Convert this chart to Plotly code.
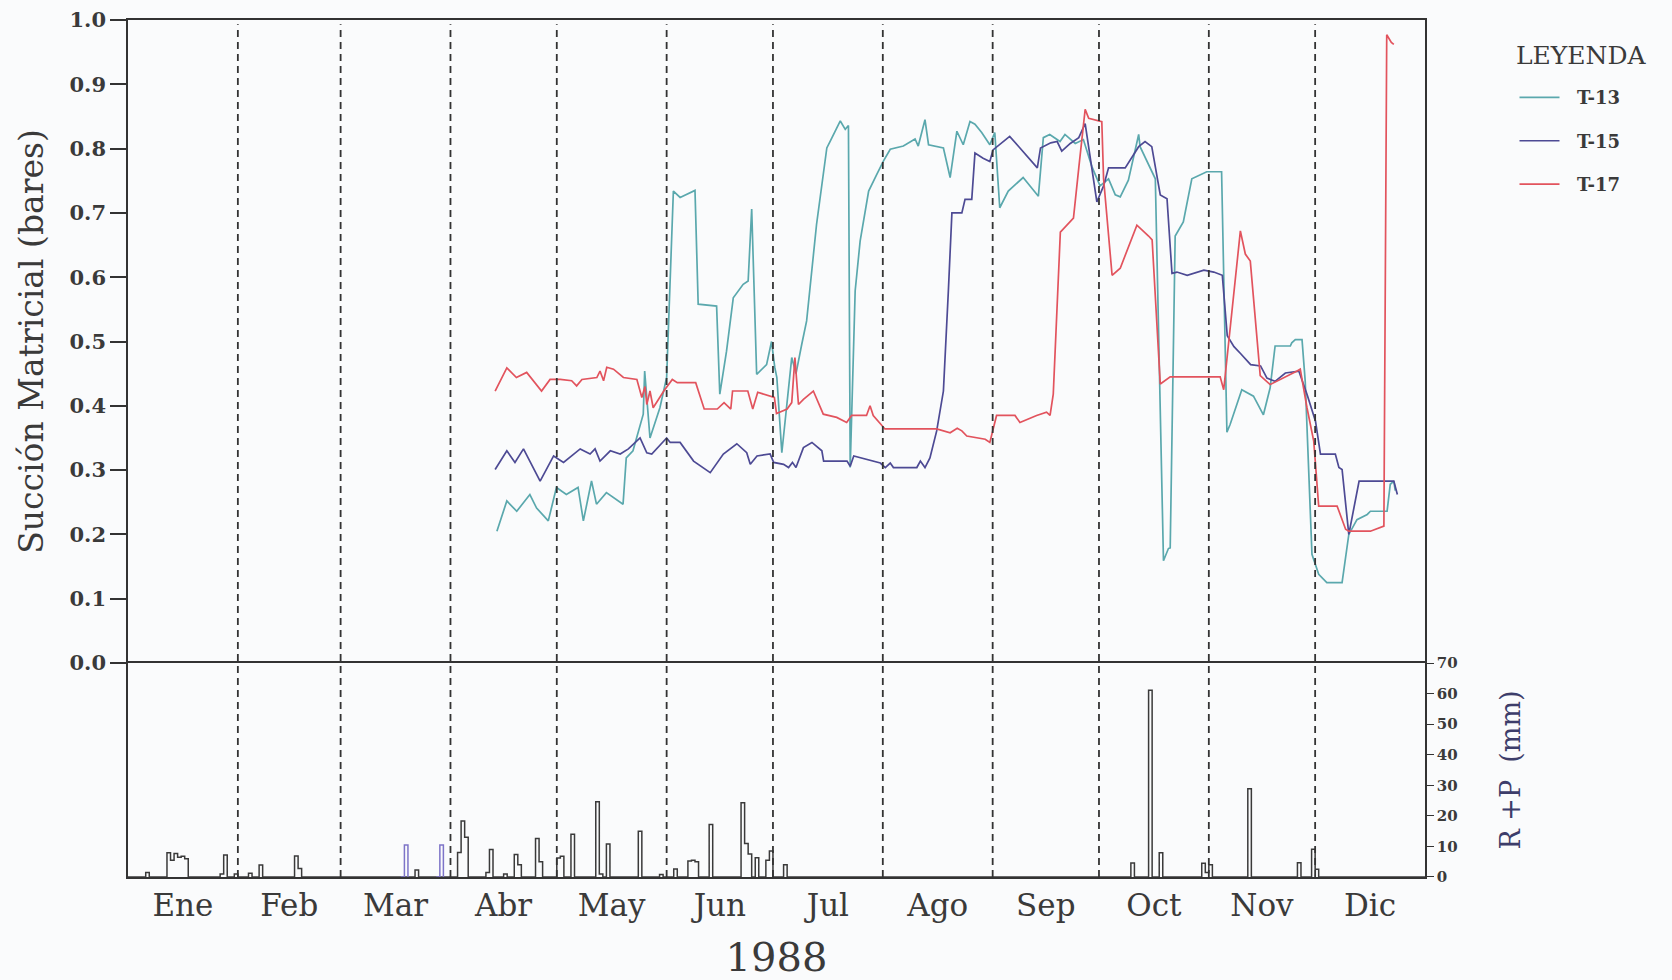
import numpy as np
import plotly.graph_objects as go
from plotly.subplots import make_subplots

# ---- Matric suction (bars) by day of year 1988 (day 0 = 1 Jan) ----
t13_day = [104.1, 106.9, 109.7, 113.4, 115.3, 118.6, 120.9, 123.7, 127.0, 128.5, 130.8, 132.2,
           135.0, 139.7, 140.6, 142.5, 145.4, 145.8, 147.3, 150.1, 152.0, 153.9, 155.8, 160.0,
           160.9, 166.1, 167.0, 168.9, 170.8, 173.6, 175.0, 176.0, 177.4, 180.2, 181.6, 182.5,
           183.1, 184.5, 187.3, 188.5, 190.1, 191.5, 194.3, 197.2, 198.1, 201.0, 202.4, 203.3,
           203.8, 205.2, 206.6, 209.0, 211.3, 213.2, 215.1, 218.8, 222.1, 223.0, 224.9, 225.9,
           230.1, 232.0, 233.9, 235.7, 237.6, 239.0, 240.9, 243.2, 244.6, 246.0, 248.4, 252.6,
           256.9, 258.3, 260.1, 263.0, 264.4, 267.3, 269.6, 272.0, 274.3, 276.7, 278.6, 280.0,
           282.3, 285.2, 285.6, 289.9, 292.2, 293.6, 294.1, 295.5, 297.8, 300.2, 304.4, 308.6,
           310.1, 311.0, 314.3, 317.6, 320.4, 322.3, 323.7, 328.0, 328.4, 329.4, 331.3, 332.2,
           334.1, 336.0, 338.3, 342.6, 344.5, 346.8, 349.7, 350.6, 355.3, 356.2, 357.2, 357.6]
t13_val = [0.205, 0.252, 0.236, 0.262, 0.241, 0.221, 0.273, 0.262, 0.273, 0.221, 0.283, 0.247,
           0.265, 0.247, 0.319, 0.330, 0.387, 0.454, 0.350, 0.397, 0.444, 0.734, 0.724, 0.735,
           0.558, 0.555, 0.418, 0.485, 0.568, 0.589, 0.594, 0.706, 0.449, 0.464, 0.500, 0.460,
           0.444, 0.327, 0.475, 0.450, 0.495, 0.532, 0.682, 0.801, 0.811, 0.843, 0.830, 0.836,
           0.304, 0.579, 0.656, 0.734, 0.760, 0.781, 0.799, 0.804, 0.815, 0.804, 0.845, 0.806,
           0.801, 0.755, 0.827, 0.806, 0.842, 0.838, 0.825, 0.806, 0.825, 0.708, 0.734, 0.755,
           0.726, 0.817, 0.822, 0.811, 0.822, 0.808, 0.814, 0.772, 0.742, 0.753, 0.728, 0.725,
           0.751, 0.822, 0.803, 0.753, 0.159, 0.178, 0.179, 0.664, 0.686, 0.753, 0.764, 0.764,
           0.359, 0.371, 0.425, 0.415, 0.386, 0.428, 0.493, 0.493, 0.498, 0.503, 0.503, 0.438,
           0.169, 0.138, 0.125, 0.125, 0.200, 0.223, 0.231, 0.236, 0.236, 0.278, 0.283, 0.268]

t15_day = [103.6, 106.9, 109.2, 111.6, 116.3, 120.1, 122.9, 127.6, 130.4, 131.8, 133.2, 136.1,
           138.9, 141.2, 144.5, 146.4, 147.8, 150.6, 152.0, 153.0, 155.8, 159.6, 164.3, 168.0,
           171.8, 174.6, 175.6, 177.5, 181.2, 182.2, 185.0, 186.4, 187.5, 188.5, 190.6, 193.0,
           195.8, 196.3, 202.9, 203.8, 204.8, 212.3, 213.7, 215.1, 216.0, 222.6, 223.6, 224.9,
           226.3, 228.2, 230.1, 231.5, 232.5, 235.3, 236.2, 238.1, 239.0, 241.3, 243.2, 244.1,
           248.8, 251.2, 256.6, 257.5, 260.4, 262.2, 263.5, 265.9, 268.3, 270.1, 273.4, 275.3,
           276.7, 281.4, 285.2, 287.0, 288.9, 291.3, 293.2, 294.6, 296.0, 298.9, 303.6, 306.4,
           308.8, 310.2, 312.1, 314.0, 316.8, 319.6, 321.4, 323.7, 326.6, 330.4, 332.7, 335.1,
           336.5, 340.7, 341.7, 342.6, 344.5, 347.4, 357.2, 358.2]
t15_val = [0.301, 0.330, 0.312, 0.333, 0.283, 0.322, 0.312, 0.333, 0.325, 0.333, 0.314, 0.330,
           0.325, 0.333, 0.350, 0.327, 0.325, 0.341, 0.350, 0.343, 0.343, 0.314, 0.296, 0.325,
           0.341, 0.327, 0.309, 0.322, 0.325, 0.312, 0.309, 0.304, 0.312, 0.304, 0.335, 0.343,
           0.330, 0.314, 0.314, 0.306, 0.322, 0.311, 0.304, 0.311, 0.304, 0.304, 0.314, 0.304,
           0.319, 0.361, 0.423, 0.579, 0.700, 0.700, 0.721, 0.721, 0.793, 0.785, 0.780, 0.798,
           0.819, 0.804, 0.770, 0.801, 0.809, 0.811, 0.796, 0.808, 0.817, 0.839, 0.717, 0.742,
           0.770, 0.770, 0.803, 0.811, 0.803, 0.728, 0.722, 0.606, 0.608, 0.603, 0.611, 0.608,
           0.603, 0.509, 0.492, 0.481, 0.464, 0.462, 0.443, 0.438, 0.451, 0.454, 0.418, 0.376,
           0.325, 0.325, 0.304, 0.301, 0.200, 0.283, 0.283, 0.262]

t17_day = [103.6, 106.9, 109.6, 112.5, 116.7, 119.1, 122.0, 125.2, 126.6, 128.1, 132.3, 133.2,
           134.2, 135.1, 137.0, 139.8, 143.6, 145.0, 145.9, 146.4, 147.3, 148.2, 151.2, 153.6,
           155.0, 156.9, 160.2, 162.6, 166.3, 168.2, 170.1, 170.6, 174.9, 176.3, 177.7, 182.4,
           183.0, 186.0, 187.3, 188.2, 189.2, 190.6, 193.4, 196.2, 200.0, 202.8, 204.2, 208.4,
           209.4, 210.3, 213.6, 228.2, 232.0, 234.0, 235.3, 236.7, 241.9, 243.2, 245.1, 250.3,
           251.7, 256.4, 259.2, 260.2, 261.1, 263.1, 266.8, 268.3, 270.1, 271.1, 274.8, 275.3,
           277.7, 280.0, 284.7, 288.0, 289.0, 291.3, 294.1, 308.2, 309.2, 313.9, 315.3, 316.7,
           319.5, 322.3, 326.1, 329.9, 330.8, 332.7, 334.6, 336.0, 341.2, 343.6, 344.5, 350.6,
           354.4, 355.2, 356.5, 357.2]
t17_val = [0.423, 0.459, 0.444, 0.452, 0.423, 0.441, 0.441, 0.439, 0.431, 0.441, 0.444, 0.454,
           0.439, 0.460, 0.457, 0.444, 0.441, 0.413, 0.430, 0.402, 0.423, 0.397, 0.423, 0.441,
           0.436, 0.436, 0.436, 0.395, 0.395, 0.405, 0.395, 0.423, 0.423, 0.395, 0.421, 0.413,
           0.388, 0.395, 0.405, 0.475, 0.402, 0.410, 0.423, 0.387, 0.382, 0.374, 0.385, 0.385,
           0.400, 0.385, 0.364, 0.364, 0.358, 0.365, 0.361, 0.353, 0.348, 0.343, 0.385, 0.385,
           0.374, 0.385, 0.390, 0.385, 0.418, 0.670, 0.692, 0.770, 0.861, 0.847, 0.842, 0.753,
           0.603, 0.614, 0.681, 0.664, 0.658, 0.434, 0.445, 0.445, 0.425, 0.672, 0.636, 0.625,
           0.447, 0.433, 0.443, 0.454, 0.457, 0.397, 0.345, 0.244, 0.244, 0.208, 0.205, 0.205,
           0.213, 0.977, 0.965, 0.962]

# ---- Daily rain + irrigation (mm) ----
rain_day = [5, 11, 12, 13, 14, 15, 16, 26, 27, 30, 34, 37, 47, 48, 81,
            93, 94, 95, 101, 102, 106, 109, 110, 115, 116, 121, 122, 125, 132, 133,
            135, 144, 150, 154, 158, 159, 160, 164, 173, 174, 175, 177, 180, 181, 185,
            283, 288, 291, 303, 304, 305, 316, 330, 334, 335]
rain_mm = [1.5, 7.9, 5.5, 7.7, 6.5, 6.8, 6.0, 1.0, 7.2, 1.0, 1.2, 3.9, 6.9, 2.8, 2.3,
           8.0, 18.3, 13.0, 1.5, 9.0, 1.0, 7.4, 4.0, 12.6, 5.0, 6.2, 6.8, 14.0, 24.6, 1.0,
           10.8, 15.0, 0.8, 2.6, 5.2, 5.5, 5.0, 17.2, 24.3, 11.0, 7.5, 6.3, 5.5, 8.5, 4.0,
           4.6, 61.1, 7.9, 4.5, 1.5, 4.0, 28.9, 4.7, 9.1, 2.5]
irrig_day = [78, 88]
irrig_mm = [10.5, 10.5]

months = ["Ene", "Feb", "Mar", "Abr", "May", "Jun", "Jul", "Ago", "Sep", "Oct", "Nov", "Dic"]
month_len = [31, 29, 31, 30, 31, 30, 31, 31, 30, 31, 30, 31]

month_edges = np.concatenate([[0], np.cumsum(month_len)])
month_mid = (month_edges[:-1] + month_edges[1:]) / 2.0
n_days = int(month_edges[-1])


def daily(days, vals):
    arr = np.zeros(n_days + 1)
    for d, v in zip(days, vals):
        arr[d] = v
    return arr


day_axis = np.arange(n_days + 1)
rain_series = daily(rain_day, rain_mm)
irrig_series = daily(irrig_day, irrig_mm)
irr_mask = irrig_series > 0
irr_visible = irr_mask | np.roll(irr_mask, 1) | np.roll(irr_mask, -1)

SERIF = "DejaVu Serif"
INK = "#333333"
TXT = "#3a3a3a"
BG = "#fafbfc"
NBSP = "\u00a0"

fig = make_subplots(rows=2, cols=1, shared_xaxes=True, vertical_spacing=0,
                    row_heights=[0.7503, 0.2497])

series = [("T-13", t13_day, t13_val, "#5aa8ad"),
          ("T-15", t15_day, t15_val, "#4d4a94"),
          ("T-17", t17_day, t17_val, "#e2535d")]
for name, d, v, c in series:
    fig.add_trace(go.Scatter(x=d, y=v, mode="lines", name=NBSP * 2 + name, legendgroup=name,
                             line=dict(color=c, width=1.7)), row=1, col=1)

fig.add_trace(go.Scatter(x=day_axis, y=rain_series, mode="lines", line_shape="hv",
                         line=dict(color="#3a3a3a", width=1.5), showlegend=False),
              row=2, col=1)
fig.add_trace(go.Scatter(x=day_axis, y=np.where(irr_visible, irrig_series, np.nan),
                         mode="lines", line_shape="hv",
                         line=dict(color="#7d74c8", width=1.5), showlegend=False),
              row=2, col=1)

# month separators across both panels
for e in month_edges[1:-1]:
    fig.add_shape(type="line", xref="x", yref="paper", x0=e, x1=e, y0=0, y1=0.995,
                  line=dict(color=INK, width=1.8, dash="7px,5px"), layer="above")

axis_common = dict(showline=True, linecolor=INK, linewidth=1.6,
                   showgrid=False, zeroline=False, automargin=False)

fig.update_xaxes(range=[0, n_days], **axis_common)
# upper panel: only its top border; the shared middle line comes from the lower panel
fig.update_xaxes(row=1, col=1, side="top", mirror=False, showticklabels=False, ticks="")
fig.update_xaxes(row=2, col=1, mirror=True, tickvals=month_mid, ticktext=months, ticks="",
                 tickfont=dict(family=SERIF, size=31, color=TXT),
                 title=dict(text="1988", font=dict(family=SERIF, size=40, color=TXT),
                            standoff=21))

fig.update_yaxes(row=1, col=1, range=[0, 1.0], tickvals=[i / 10 for i in range(11)],
                 tickformat=".1f", ticks="outside", ticklen=16, tickwidth=1.6, tickcolor=INK,
                 mirror=True,
                 tickfont=dict(family=SERIF, size=21, color=TXT, weight="bold"),
                 title=dict(text="Succión Matricial (bares)",
                            font=dict(family=SERIF, size=33, color=TXT), standoff=16),
                 **axis_common)
fig.update_yaxes(row=2, col=1, range=[0, 70], tickvals=list(range(0, 71, 10)), side="right",
                 ticks="outside", ticklen=7, tickwidth=1.4, tickcolor=INK, mirror=True,
                 tickfont=dict(family=SERIF, size=15, color=TXT, weight="bold"),
                 title=dict(text="R +P  (mm)",
                            font=dict(family=SERIF, size=27, color="#3d3d6a"), standoff=44),
                 **axis_common)

fig.add_annotation(xref="paper", yref="paper", x=1.069, y=0.958, xanchor="left",
                   yanchor="middle", showarrow=False, text="LEYENDA",
                   font=dict(family=SERIF, size=25, color=TXT))

fig.update_layout(
    width=1672, height=980,
    margin=dict(l=128, r=247, t=20, b=103, autoexpand=False),
    paper_bgcolor=BG, plot_bgcolor=BG,
    showlegend=True,
    legend=dict(x=1.069, xanchor="left", y=0.931, yanchor="top",
                bgcolor="rgba(0,0,0,0)", tracegroupgap=17, itemwidth=40,
                font=dict(family=SERIF, size=18, color=TXT, weight="bold")),
)

fig.write_html("out.html")
